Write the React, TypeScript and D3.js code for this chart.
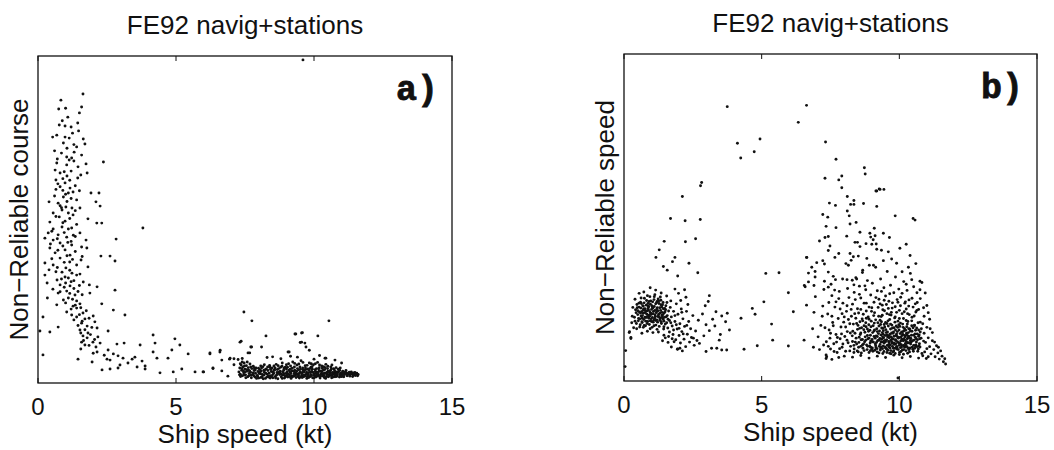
import React from "react";
import * as d3 from "d3";

// speed (kt) vs. non-reliability index (0-100, no tick labels on the original)
const speedTicks = [0, 5, 10, 15];

// ---- panel a : Non-Reliable course ----
const courseStation = [
  [1.63,88.4],[0.83,86.5],[1.58,84.4],[0.75,83.8],[1.5,82.6],[1.08,81.3],[0.77,78.9],[1.44,79.5],[0.98,78.6],[1.2,78.3],
  [1.47,77.1],[0.53,75.2],[0.68,75.8],[0.98,75.2],[1.13,74.9],[1.64,74.6],[1.7,73.1],[0.92,73.4],[1.4,72.2],[1.31,70.6],
  [1.58,69.7],[1.04,69.1],[1.13,68.2],[1.22,68.8],[0.68,67.3],[2.37,67.6],[1.74,67.0],[1.04,66.7],[0.62,65.1],[1.78,64.2],
  [0.8,64.2],[0.65,62.1],[1.44,62.7],[0.98,61.2],[0.8,60.0],[1.16,59.6],[1.27,58.4],[1.1,58.1],[1.92,58.1],[2.21,58.1],
  [0.92,56.9],[1.4,56.0],[0.4,55.4],[0.73,55.0],[2.1,55.4],[1.01,53.8],[1.23,53.5],[1.52,53.5],[2.25,54.1],[0.87,52.9],
  [0.55,52.0],[1.1,52.0],[1.27,51.4],[0.77,50.8],[1.81,50.2],[0.43,49.2],[0.98,49.5],[2.13,48.9],[2.31,48.9],[0.87,47.7],
  [0.55,47.1],[1.22,47.4],[3.8,47.4],[0.37,45.9],[0.73,45.3],[1.52,45.9],[1.04,44.6],[0.25,44.3],[0.55,43.7],[1.74,43.7],
  [2.83,44.0],[0.8,42.8],[1.22,42.2],[1.58,41.6],[0.43,41.3],[0.98,40.7],[1.77,41.3],[0.62,39.8],[1.16,39.1],[2.28,38.8],
  [2.61,38.8],[0.8,38.2],[1.56,37.6],[2.79,37.3],[0.25,36.7],[0.55,36.1],[1.4,36.1],[1.81,35.5],[1.01,35.2],[0.4,34.6],
  [0.87,33.9],[1.23,33.6],[1.52,33.3],[0.25,33.0],[0.98,32.4],[1.1,32.1],[0.69,31.5],[1.64,30.9],[0.33,30.6],[0.8,30.0],
  [1.16,29.7],[1.86,30.0],[2.14,29.4],[0.54,28.7],[1.04,28.1],[2.79,28.4],[0.73,27.5],[1.34,26.9],[1.88,27.5],[0.34,26.0],
  [1.1,26.0],[0.92,25.4],[2.31,24.2],[1.52,24.2],[0.68,23.9],[1.27,23.5],[1.4,22.9],[2.73,22.3],[1.04,21.7],[1.63,21.4],
  [1.22,20.8],[3.15,20.8],[2.0,20.5],[1.4,20.2],[1.7,19.6],[0.18,20.2],[2.06,18.7],[1.58,18.3],[1.78,17.4],[0.73,17.1],
  [1.52,16.2],[0.07,15.9],[2.14,16.8],[2.54,15.9],[0.43,15.6],[1.81,15.3],[1.63,14.4],[2.17,14.1],[1.78,13.8],[1.58,12.5],
  [1.99,12.5],[4.17,14.7],[4.96,13.5],[1.7,11.6],[2.1,11.0],[2.86,11.9],[3.12,12.2],[3.7,11.6],[4.24,12.2],[5.14,11.6],
  [2.54,10.1],[2.14,9.5],[4.17,9.5],[4.85,10.1],[2.73,8.9],[2.9,8.3],[5.44,8.9],[0.18,8.6],[3.08,7.6],[3.41,7.3],
  [3.51,7.9],[3.77,6.7],[2.61,7.0],[2.5,7.3],[1.45,7.3],[1.96,6.4],[4.31,7.6],[4.71,7.6],[2.97,5.5],[3.26,6.1],
  [3.59,4.9],[3.88,5.2],[2.32,4.0],[2.61,4.3],[2.9,4.6],[3.88,4.3],[4.42,3.1],[4.9,3.4],[5.21,4.3],[5.69,3.4],
  [5.98,3.4],[6.34,4.6],[0.9,62.5],[1.2,64.8],[1.0,57.7],[1.35,44.8],[1.15,37.0],[0.7,35.3],[1.3,31.3],[0.95,29.3],
  [1.45,28.0],[1.25,25.6],[1.5,20.9],[1.35,23.8],[1.1,47.1],[0.85,53.6],[1.05,63.3],[1.3,72.9],[0.65,59.2],[1.2,43.3],
];

const courseStationCore = [
  [0.88,80.2],[1.25,76.4],[1.05,71.8],[0.85,70.3],[1.45,66.1],[0.95,64.6],[1.15,62.0],[0.72,60.9],[1.35,60.3],[0.9,58.9],
  [1.2,56.4],[0.6,57.2],[1.5,58.8],[1.05,55.5],[0.8,54.2],[1.35,52.7],[0.65,50.9],[1.15,50.3],[0.9,49.0],[1.4,48.5],
  [0.5,46.4],[0.95,46.0],[1.28,45.2],[0.7,44.1],[1.08,43.0],[0.45,42.5],[0.9,41.9],[1.35,40.2],[0.72,40.6],[1.05,38.9],
  [0.5,38.0],[1.25,37.8],[0.95,36.9],[1.6,38.7],[0.65,34.0],[1.15,34.5],[1.4,33.0],[0.85,31.8],[1.2,31.0],[1.5,29.8],
  [1.0,30.6],[1.3,28.9],[0.8,27.9],[1.15,27.4],[1.6,27.0],[1.0,24.5],[1.4,25.1],[1.2,22.6],[1.55,23.0],[1.75,22.1],
  [1.3,19.3],[1.6,18.9],[1.85,19.8],[1.45,17.6],[1.7,16.3],[1.95,17.0],[1.55,15.3],[1.9,14.8],[1.65,13.0],[2.05,13.3],
  [1.85,11.5],[2.25,12.2],[1.55,10.4],[2.0,9.1],[2.4,8.5],[0.6,71.0],[1.0,84.0],[0.7,68.5],[1.3,67.9],[1.55,63.6],
];

const courseTransit = [
  [6.23,8.9],[6.59,9.5],[6.66,7.0],[6.88,2.1],[6.96,7.6],[7.32,12.5],[7.46,21.7],[7.75,19.0],[8.26,14.4],[9.31,15.0],
  [9.55,15.3],[9.55,12.5],[9.67,12.2],[9.71,11.0],[10.14,14.4],[10.54,19.0],[9.6,98.8],[7.71,11.0],[7.61,9.2],[9.06,9.5],
  [10.76,7.0],[10.4,7.6],[9.34,15.0],[9.58,15.4],[9.5,12.4],[7.36,12.8],[7.74,11.0],[8.1,11.0],[7.67,9.2],[6.23,9.2],
  [6.6,10.0],[9.1,9.5],[9.15,8.2],[9.83,10.0],[10.43,7.6],[6.94,7.3],[7.1,7.4],[7.25,7.2],[7.4,7.5],[6.0,3.4],
  [6.34,4.4],[6.66,3.7],[7.1,5.6],[8.5,8.0],[8.8,7.4],[9.4,7.9],[10.0,7.3],[10.2,8.4],[8.3,7.8],[11.0,6.1],
];

const courseBand = [
  [7.28,3.4],[7.31,4.6],[7.33,2.7],[7.36,5.5],[7.38,3.9],[7.4,2.2],[7.42,4.9],[7.45,3.1],[7.47,6.1],[7.5,4.2],
  [7.52,2.5],[7.55,5.3],[7.57,3.6],[7.6,1.9],[7.62,4.7],[7.65,2.9],[7.68,5.8],[7.7,3.3],[7.73,1.6],[7.75,4.4],
  [7.78,2.6],[7.8,5.1],[7.83,3.8],[7.86,1.8],[7.88,3.0],[7.9,4.6],[7.94,2.3],[7.97,3.5],[8.0,1.5],[8.03,4.1],
  [8.06,2.8],[8.09,3.7],[8.12,1.9],[8.15,5.0],[8.18,2.4],[8.2,3.3],[8.24,1.4],[8.27,4.3],[8.3,2.7],[8.33,3.8],
  [8.36,1.8],[8.39,5.4],[8.42,2.2],[8.45,3.5],[8.48,4.6],[8.51,1.6],[8.54,2.9],[8.57,4.0],[8.6,2.0],[8.63,5.7],
  [8.66,3.2],[8.69,1.3],[8.72,4.4],[8.75,2.6],[8.78,3.6],[8.81,1.9],[8.84,5.1],[8.87,2.4],[8.9,3.9],[8.93,1.5],
  [8.96,4.8],[8.99,2.9],[9.02,3.4],[9.05,1.8],[9.08,5.9],[9.11,2.5],[9.14,4.2],[9.17,1.4],[9.2,3.7],[9.23,6.4],
  [9.26,2.1],[9.29,4.9],[9.32,3.0],[9.35,1.7],[9.38,5.5],[9.41,2.7],[9.44,4.0],[9.47,1.5],[9.5,3.4],[9.53,6.8],
  [9.56,2.3],[9.59,4.6],[9.62,1.9],[9.65,3.8],[9.68,5.3],[9.71,2.6],[9.74,1.4],[9.77,4.3],[9.8,3.1],[9.83,6.1],
  [9.86,2.0],[9.89,4.8],[9.92,3.5],[9.95,1.6],[9.98,5.6],[10.01,2.8],[10.04,4.1],[10.07,1.8],[10.1,3.3],[10.13,6.3],
  [10.16,2.4],[10.19,4.7],[10.22,1.5],[10.25,3.7],[10.28,5.2],[10.31,2.2],[10.34,4.0],[10.37,1.7],[10.4,3.1],[10.43,5.7],
  [10.46,2.6],[10.49,4.4],[10.52,1.9],[10.55,3.5],[10.58,2.3],[10.61,4.9],[10.64,1.6],[10.67,3.2],[10.7,2.7],[10.73,4.1],
  [10.76,1.9],[10.8,3.4],[10.84,2.4],[10.88,4.2],[10.92,1.8],[10.96,3.0],[11.0,2.4],[11.04,3.6],[11.08,1.9],[11.12,2.9],
  [11.16,3.8],[11.2,2.2],[11.25,3.1],[11.3,2.5],[11.35,3.4],[11.4,2.0],[11.45,2.8],[11.5,2.3],[11.55,3.0],[11.6,2.6],
  [7.34,2.0],[7.44,3.7],[7.53,1.6],[7.63,3.9],[7.72,2.4],[7.84,4.6],[7.92,1.4],[8.01,2.9],[8.1,4.6],[8.16,1.3],
  [8.25,3.0],[8.34,2.1],[8.43,4.2],[8.52,3.3],[8.61,1.5],[8.67,4.1],[8.76,3.1],[8.85,1.4],[8.91,2.8],[9.0,4.3],
  [9.06,2.7],[9.12,3.4],[9.19,2.2],[9.27,3.5],[9.33,2.4],[9.4,4.4],[9.46,2.9],[9.52,1.9],[9.58,3.2],[9.64,2.5],
  [9.7,4.1],[9.76,1.9],[9.82,3.8],[9.88,2.6],[9.94,4.2],[10.0,1.6],[10.06,3.0],[10.12,2.1],[10.18,3.6],[10.24,2.6],
  [10.3,4.5],[10.36,2.9],[10.42,1.4],[10.48,3.3],[10.54,2.5],[10.6,3.9],[10.66,2.2],[10.72,3.0],[10.78,2.8],[10.86,3.3],
  [10.94,2.5],[11.02,3.1],[11.1,2.6],[11.18,3.0],[11.28,3.3],[11.38,2.7],[11.48,3.2],[11.58,2.2],[9.15,5.2],[9.45,5.8],
  [9.75,5.4],[10.05,5.9],[10.35,5.0],[10.65,5.5],[8.85,6.1],[8.55,5.2],[8.2,5.6],[7.48,5.2],[7.4,6.4],[10.95,4.6],
];

const courseBandCore = [
  [7.3,2.5],[7.39,4.4],[7.46,2.4],[7.56,4.1],[7.64,2.2],[7.71,4.9],[7.79,3.1],[7.87,4.0],[7.96,2.0],[8.04,3.3],
  [8.13,2.6],[8.21,4.0],[8.29,1.8],[8.37,3.0],[8.46,1.9],[8.55,3.9],[8.64,2.4],[8.73,3.4],[8.82,2.7],[8.92,4.5],
  [8.97,1.9],[9.03,2.3],[9.09,3.9],[9.16,3.0],[9.22,1.9],[9.3,3.9],[9.36,2.9],[9.43,1.9],[9.49,4.9],[9.55,2.8],
  [9.61,4.0],[9.67,2.1],[9.73,3.3],[9.79,2.4],[9.85,4.4],[9.91,2.3],[9.97,3.2],[10.03,2.2],[10.09,4.4],[10.15,3.1],
  [10.21,1.9],[10.27,3.0],[10.33,2.6],[10.39,4.1],[10.45,2.0],[10.51,3.6],[10.57,2.9],[10.63,4.3],[10.69,1.8],[10.75,3.6],
  [10.82,2.0],[10.9,3.6],[10.98,2.0],[11.06,2.6],[11.14,3.3],[11.22,2.6],[11.33,2.9],[11.43,2.4],[11.53,2.7],[8.07,5.2],
  [8.4,4.8],[8.7,5.3],[9.0,5.6],[9.3,6.0],[9.6,6.3],[9.9,5.9],[10.2,5.5],[10.5,5.1],[10.8,4.7],[7.58,6.4],
  [7.33,5.9],[7.49,3.3],[7.67,3.7],[7.82,2.2],[7.99,4.5],[8.08,1.7],[8.19,3.9],[8.32,4.9],[8.41,1.5],[8.5,2.5],
  [8.59,4.6],[8.68,2.9],[8.79,4.8],[8.88,3.3],[8.95,2.2],[9.04,4.8],[9.13,1.9],[9.21,4.5],[9.28,2.8],[9.37,3.6],
  [9.44,2.3],[9.51,4.2],[9.57,1.7],[9.63,3.4],[9.69,4.6],[9.75,2.9],[9.81,1.7],[9.87,3.3],[9.93,5.0],[9.99,2.5],
  [10.05,3.6],[10.11,2.6],[10.17,4.3],[10.23,2.1],[10.29,3.5],[10.35,2.3],[10.41,4.7],[10.47,3.0],[10.53,2.1],[10.59,3.2],
  [10.65,2.6],[10.71,4.4],[10.77,2.4],[10.85,2.8],[10.93,3.9],[11.01,2.0],[11.09,3.3],[11.19,2.5],[11.3,2.1],[11.42,3.1],
];

// ---- panel b : Non-Reliable speed ----
const speedStation = [
  [0.38,19.5],[0.42,21.8],[0.45,17.6],[0.47,23.4],[0.5,20.3],[0.52,18.4],[0.55,22.6],[0.57,16.5],[0.6,24.1],[0.62,19.9],
  [0.64,21.2],[0.66,17.9],[0.68,23.0],[0.7,20.7],[0.72,18.8],[0.74,25.3],[0.76,22.1],[0.78,16.9],[0.8,19.4],[0.82,24.6],
  [0.84,21.5],[0.86,18.2],[0.88,22.9],[0.9,20.1],[0.92,17.3],[0.94,25.8],[0.96,23.5],[0.98,19.0],[1.0,21.9],[1.02,16.4],
  [1.04,24.2],[1.06,20.6],[1.08,18.6],[1.1,22.8],[1.12,26.4],[1.14,19.7],[1.16,17.1],[1.18,23.9],[1.2,21.3],[1.22,18.0],
  [1.24,25.1],[1.26,20.4],[1.28,16.7],[1.3,22.4],[1.32,19.2],[1.34,24.7],[1.36,17.6],[1.38,21.0],[1.4,23.3],[1.42,18.9],
  [1.44,15.9],[1.46,20.8],[1.48,22.2],[1.5,17.4],[1.53,19.6],[1.56,24.0],[1.59,16.2],[1.62,21.4],[1.65,18.5],[0.4,18.3],
  [0.44,20.9],[0.48,22.4],[0.53,19.1],[0.56,21.1],[0.59,17.2],[0.63,23.7],[0.67,20.0],[0.71,22.0],[0.73,17.0],[0.77,20.9],
  [0.81,23.2],[0.85,19.7],[0.89,21.7],[0.91,24.3],[0.95,18.4],[0.97,20.7],[1.01,23.0],[1.03,19.4],[1.07,21.3],[1.09,16.9],
  [1.13,20.2],[1.15,23.6],[1.19,18.7],[1.21,22.4],[1.25,19.9],[1.27,23.7],[1.31,20.8],[1.35,18.1],[1.37,22.6],[1.41,20.3],
  [1.45,18.3],[1.49,21.2],[1.52,23.0],[1.57,20.0],[1.6,18.9],[0.6,20.8],[0.66,19.2],[0.75,21.7],[0.79,18.3],[0.83,20.4],
  [0.87,22.2],[0.93,19.8],[0.99,20.5],[1.05,22.3],[1.11,19.2],[1.17,20.9],[1.23,21.5],[1.29,19.4],[1.33,21.6],[1.39,19.5],
  [1.43,22.1],[0.7,22.9],[0.9,22.7],[1.0,18.2],[1.2,24.3],[0.2,15.1],[0.25,13.3],[0.28,17.8],[0.32,22.5],[0.3,19.8],
  [0.35,16.3],[0.4,25.0],[0.55,26.8],[0.65,14.6],[0.72,27.2],[0.85,15.2],[0.95,28.5],[1.05,14.8],[1.15,27.8],[1.25,15.0],
  [1.35,26.9],[1.45,14.0],[1.55,26.0],[1.62,13.6],[1.7,24.5],[1.68,22.5],[1.72,19.6],[1.75,16.8],[1.78,14.2],[1.8,21.3],
  [1.85,18.2],[1.88,12.6],[1.9,23.6],[1.93,15.9],[1.96,20.4],[2.0,13.9],[2.03,17.5],[2.05,11.6],[2.08,22.0],[2.1,15.1],
  [2.14,19.0],[2.18,12.8],[2.2,16.7],[2.24,10.5],[2.27,21.3],[2.3,14.3],[2.35,18.2],[2.38,11.9],[2.42,16.0],[2.45,13.3],
  [2.5,20.0],[2.55,10.9],[2.6,15.3],[2.65,12.4],[2.7,18.6],[1.6,11.8],[1.72,10.4],[1.82,12.0],[1.5,13.2],[1.4,12.3],
  [1.95,9.8],[2.12,9.2],[2.25,25.6],[1.98,26.8],[1.85,28.1],[2.06,24.6],[2.2,27.9],[2.32,23.4],[0.06,9.3],[0.04,4.4],
  [0.19,14.8],[0.25,13.0],[1.94,9.7],[2.03,10.0],[2.52,13.1],[2.74,11.5],
];

const speedStationCore = [
  [0.5,21.5],[0.54,23.8],[0.58,19.0],[0.61,22.3],[0.65,18.1],[0.69,21.6],[0.73,23.9],[0.76,19.5],[0.8,21.3],[0.84,17.6],
  [0.87,23.7],[0.9,19.2],[0.94,21.2],[0.97,24.5],[1.0,20.4],[1.03,22.6],[1.06,18.0],[1.09,24.9],[1.12,21.6],[1.16,18.5],
  [1.19,22.0],[1.23,19.7],[1.26,24.5],[1.3,18.6],[1.34,23.3],[1.38,20.1],[1.42,24.0],[1.47,19.5],[1.51,21.8],[1.55,17.8],
  [0.62,25.4],[0.85,26.1],[1.1,25.8],[1.32,25.7],[0.46,16.0],[0.7,16.4],[0.95,16.0],[1.2,15.8],[1.45,16.6],[1.7,17.8],
  [1.65,15.0],[1.8,15.6],[1.9,17.2],[1.75,12.9],[2.0,16.1],[2.15,14.4],[2.28,17.0],[1.85,20.0],[2.1,21.0],
];

const speedMid = [
  [3.75,83.9],[6.63,84.3],[6.33,79.1],[4.12,72.7],[4.94,74.0],[4.73,70.1],[4.24,68.2],[2.82,60.7],[2.78,59.7],[2.12,56.4],
  [1.69,49.7],[2.22,49.0],[2.77,49.4],[2.6,43.5],[2.23,42.6],[1.46,42.7],[1.28,40.1],[2.36,36.0],[2.68,33.1],[1.16,37.8],
  [1.85,37.8],[1.76,36.5],[1.43,35.0],[1.57,33.9],[1.95,32.1],[5.15,32.9],[5.63,33.1],[5.97,27.0],[5.08,24.2],[4.66,22.2],
  [4.76,20.4],[4.25,19.2],[6.15,21.2],[5.36,17.4],[5.4,12.5],[4.84,10.8],[4.36,9.7],[5.97,10.7],[6.63,37.8],[6.58,28.8],
  [6.63,23.2],[6.54,12.5],[6.88,10.3],[7.34,6.9],[7.34,7.95],[3.1,26.1],[3.06,24.3],[3.34,21.2],[3.55,19.9],[3.75,20.7],
  [3.69,18.1],[3.83,15.6],[3.22,18.9],[2.98,17.2],[3.1,15.4],[2.9,13.8],[3.18,10.0],[3.37,10.0],[3.55,9.5],[3.73,9.5],
  [2.98,9.0],[3.46,12.5],[2.85,20.5],[2.95,23.0],[3.5,14.2],[3.3,16.8],
];

const speedTransit = [
  // sparse top of the transit cloud
  [7.32,73.1],[7.7,67.8],[7.3,62.0],[7.8,61.5],[7.91,62.7],[7.91,59.1],[8.73,65.2],[8.76,63.3],[9.18,58.1],[9.27,58.7],
  [9.15,58.1],[9.3,58.6],[9.44,58.6],[9.18,53.4],[9.85,50.5],[10.5,49.7],[10.57,49.2],[9.09,46.7],[8.93,45.2],[9.42,45.2],
  [9.64,43.9],[10.02,40.6],[10.39,38.4],[9.72,37.3],[9.42,36.8],[10.33,34.8],[8.11,56.4],[8.35,55.2],[8.35,54.0],[8.23,54.0],
  [8.7,54.3],[7.46,54.4],[7.68,53.7],[8.11,52.0],[8.18,50.5],[7.22,50.9],[7.4,50.1],[8.21,48.0],[8.43,48.5],[7.34,47.3],
  [7.7,46.9],[8.09,44.3],[8.57,45.5],[7.3,43.9],[7.42,44.2],[7.1,42.8],[8.39,42.4],[8.48,42.4],[8.57,41.1],[8.79,42.0],
  [8.96,44.0],[9.05,43.2],[9.12,44.4],[9.0,41.8],[9.16,41.9],[9.18,40.3],[7.48,41.3],[7.42,39.9],[7.8,39.0],[7.66,37.8],
  [8.21,39.0],[8.33,38.0],[8.51,38.2],[8.06,35.9],[8.15,35.4],[8.25,36.9],[6.64,37.8],[7.22,36.8],[7.0,36.2],[7.28,35.8],
  [8.82,37.5],[8.91,35.4],[9.06,35.4],[8.67,33.9],[6.82,34.8],[6.94,33.5],[6.94,31.8],[6.7,33.0],[7.42,33.3],[7.6,32.0],
  [7.28,30.5],[7.94,31.2],[8.1,31.0],[8.29,30.8],[8.45,31.2],[6.55,29.2],[6.9,29.2],[7.42,28.7],[9.6,39.5],[9.9,36.0],
  [10.1,33.4],[10.6,35.9],[10.25,41.8],[9.35,40.0],[10.75,30.5],[10.45,31.0],
  // left flank of the cloud
  [7.35,12.0],[7.4,20.5],[7.45,15.6],[7.5,9.8],[7.55,26.1],[7.58,17.9],[7.62,11.4],[7.66,22.6],[7.7,14.2],[7.74,8.7],
  [7.78,19.1],[7.82,27.4],[7.85,12.9],[7.88,16.5],[7.92,10.3],[7.95,23.8],[7.98,18.0],[8.02,13.6],[8.05,9.1],[8.08,21.3],
  [8.11,15.1],[8.14,11.7],[8.17,25.5],[8.2,17.5],[8.23,10.6],[8.26,19.8],[8.29,13.8],[7.6,16.9],[7.72,11.9],[7.9,14.4],
  [8.0,19.6],[8.1,12.5],[8.22,14.7],[7.44,24.0],[7.52,29.6],[7.68,31.0],[7.8,25.2],[8.12,28.3],[7.36,7.4],[7.42,10.6],
  [7.48,13.1],[7.63,9.0],[7.83,9.9],[7.15,17.0],[7.22,22.9],[7.05,13.5],[6.95,25.8],[7.1,9.6],[6.9,21.0],[6.85,16.0],
  [7.26,28.0],[6.7,30.3],
  // upper part of the cloud
  [8.3,23.5],[8.36,27.1],[8.42,31.6],[8.48,22.1],[8.55,29.0],[8.6,25.4],[8.66,33.2],[8.72,23.8],[8.78,27.9],[8.84,30.7],
  [8.9,22.6],[8.96,26.3],[9.02,29.9],[9.08,24.1],[9.14,34.8],[9.2,27.6],[9.26,25.0],[9.32,31.2],[9.38,23.2],[9.44,28.5],
  [9.5,26.0],[9.56,33.5],[9.62,24.4],[9.68,29.3],[9.74,22.3],[9.8,27.0],[9.86,31.8],[9.92,24.9],[9.98,28.1],[10.04,23.0],
  [10.1,26.8],[10.16,30.4],[10.22,24.2],[10.28,27.7],[10.34,22.9],[10.4,32.9],[10.46,25.3],[10.52,28.8],[10.58,23.6],[10.64,27.0],
  [10.7,21.9],[10.76,25.2],[10.82,30.1],[10.88,22.4],[10.94,26.9],[11.0,23.1],[8.52,20.8],[8.8,21.4],[9.1,20.9],[9.4,21.8],
  [9.7,20.2],[10.0,21.6],[10.3,20.6],[10.6,21.1],[10.9,19.8],[10.85,17.5],[10.9,14.6],[10.95,11.8],[11.0,16.4],[11.05,13.2],
  [11.1,18.9],[11.0,9.9],[10.88,12.2],[10.92,8.9],
  // dense core
  [8.3,12.1],[8.33,17.4],[8.36,9.8],[8.39,14.6],[8.42,19.2],[8.45,11.3],[8.48,15.8],[8.51,8.9],[8.54,13.4],[8.57,18.1],
  [8.6,10.6],[8.63,16.3],[8.66,12.7],[8.69,20.4],[8.72,9.3],[8.75,14.9],[8.78,17.8],[8.81,11.0],[8.84,13.9],[8.87,19.6],
  [8.9,8.7],[8.93,15.5],[8.96,12.2],[8.99,21.3],[9.02,10.1],[9.05,16.9],[9.08,13.6],[9.11,9.4],[9.14,18.7],[9.17,11.8],
  [9.2,15.1],[9.23,22.5],[9.26,8.6],[9.29,13.0],[9.32,17.3],[9.35,10.4],[9.38,20.1],[9.41,14.3],[9.44,9.0],[9.47,16.5],
  [9.5,12.0],[9.53,23.4],[9.56,10.9],[9.59,18.4],[9.62,13.8],[9.65,8.5],[9.68,15.9],[9.71,21.0],[9.74,11.5],[9.77,14.6],
  [9.8,9.2],[9.83,19.3],[9.86,12.6],[9.89,16.8],[9.92,10.2],[9.95,24.1],[9.98,13.3],[10.01,8.8],[10.04,17.7],[10.07,11.1],
  [10.1,20.6],[10.13,14.2],[10.16,9.6],[10.19,16.0],[10.22,12.4],[10.25,22.0],[10.28,10.5],[10.31,18.2],[10.34,13.7],[10.37,8.9],
  [10.4,15.3],[10.43,11.9],[10.46,19.5],[10.49,9.7],[10.52,14.0],[10.55,17.1],[10.58,10.8],[10.61,12.9],[10.64,21.6],[10.67,9.1],
  [10.7,15.6],[10.73,11.4],[10.76,18.0],[10.79,13.1],[10.82,8.4],[8.31,15.2],[8.35,10.9],[8.38,20.6],[8.43,13.1],[8.47,9.2],
  [8.5,17.0],[8.53,11.8],[8.58,14.2],[8.62,8.6],[8.65,19.0],[8.68,10.0],[8.71,15.7],[8.74,12.0],[8.79,16.6],[8.83,9.6],
  [8.86,12.9],[8.89,17.2],[8.92,10.7],[8.95,14.0],[8.98,18.3],[9.01,12.7],[9.04,9.1],[9.07,20.0],[9.1,15.6],[9.13,11.3],
  [9.16,13.8],[9.19,9.9],[9.22,17.8],[9.25,12.5],[9.28,15.3],[9.31,9.5],[9.34,19.7],[9.37,11.9],[9.4,16.1],[9.43,13.2],
  [9.46,21.5],[9.49,10.3],[9.52,14.8],[9.55,17.6],[9.58,9.4],[9.61,12.1],[9.64,20.3],[9.67,11.0],[9.7,13.5],[9.73,17.1],
  [9.76,8.9],[9.79,15.0],[9.82,11.2],[9.85,22.7],[9.88,13.9],[9.91,9.8],[9.94,16.4],[9.97,11.7],[10.0,19.1],[10.03,14.5],
  [10.06,9.0],[10.09,12.8],[10.12,17.4],[10.15,10.9],[10.18,21.2],[10.21,13.5],[10.24,9.3],[10.27,16.6],[10.3,11.6],[10.33,14.8],
  [10.36,20.3],[10.39,10.1],[10.42,13.0],[10.45,16.9],[10.48,12.3],[10.51,9.1],[10.54,19.9],[10.57,14.4],[10.6,11.0],[10.63,16.2],
  [10.66,12.6],[10.69,9.8],[10.72,14.1],[10.75,10.4],[10.8,16.0],[9.3,11.2],[9.33,14.1],[9.36,12.8],[9.39,9.9],[9.42,15.4],
  [9.45,11.6],[9.48,13.9],[9.51,10.0],[9.54,12.6],[9.57,15.0],[9.6,11.0],[9.63,13.2],[9.66,10.1],[9.69,12.5],[9.72,14.7],
  [9.75,10.6],[9.78,12.8],[9.81,16.3],[9.84,10.0],[9.87,11.4],[9.9,14.4],[9.93,12.0],[9.96,9.6],[9.99,15.6],[10.02,11.5],
  [10.05,13.4],[10.08,10.4],[10.11,15.0],[10.14,12.3],[10.17,10.7],[10.2,13.9],[10.23,11.0],[10.26,14.6],[10.29,12.9],[10.32,10.0],
  [10.35,11.7],[10.38,13.2],[9.4,8.4],[9.7,8.3],[10.0,8.1],[10.3,8.5],[9.55,8.7],[9.85,8.4],[10.15,8.2],[9.2,8.9],
  [8.95,9.3],
  // bottom edge and right tail
  [11.1,10.5],[11.15,8.3],[11.2,12.3],[11.25,9.6],[11.3,7.4],[11.35,10.8],[11.4,8.6],[11.45,6.7],[11.5,9.2],[11.55,7.6],
  [11.6,5.9],[11.65,6.8],[11.68,5.2],[11.2,14.8],[11.12,16.0],[11.28,11.9],[11.42,10.3],[11.05,7.4],[10.98,6.9],[10.85,7.7],
  [8.0,7.6],[8.3,7.3],[8.6,7.8],[8.9,7.0],[9.2,7.6],[9.5,7.2],[9.8,7.9],[10.1,7.1],[10.4,7.5],[10.7,7.0],
  [7.55,6.6],[7.8,7.2],[9.95,0.9],
];

const speedTransitCore = [
  [8.52,10.3],[8.56,16.1],[8.61,12.6],[8.67,18.4],[8.7,11.3],[8.76,13.5],[8.8,19.2],[8.85,10.6],[8.88,15.2],[8.94,11.6],
  [8.97,16.6],[9.0,9.7],[9.03,14.8],[9.06,11.9],[9.09,17.7],[9.12,13.1],[9.15,10.2],[9.18,16.0],[9.21,12.3],[9.24,14.5],
  [9.27,10.6],[9.3,18.6],[9.33,12.0],[9.36,16.2],[9.39,13.5],[9.42,10.7],[9.45,17.3],[9.48,12.4],[9.51,15.7],[9.54,9.8],
  [9.57,13.5],[9.6,16.8],[9.63,11.7],[9.66,14.3],[9.69,9.3],[9.72,12.0],[9.75,16.2],[9.78,10.0],[9.81,13.7],[9.84,18.0],
  [9.87,12.4],[9.9,10.6],[9.93,15.1],[9.96,13.1],[9.99,10.9],[10.02,16.7],[10.05,12.2],[10.08,14.9],[10.11,9.5],[10.14,16.4],
  [10.17,12.9],[10.2,10.3],[10.23,15.5],[10.26,12.0],[10.29,17.4],[10.32,13.2],[10.35,9.6],[10.38,15.9],[10.41,11.3],[10.44,14.0],
  [10.47,10.3],[10.5,16.3],[10.53,12.5],[10.56,10.0],[10.59,15.5],[10.62,11.9],[10.65,14.4],[10.68,17.8],[10.71,10.7],[10.74,12.9],
  [9.25,19.8],[9.55,20.6],[9.85,19.6],[10.15,19.1],[10.45,18.4],[8.9,18.9],[9.0,22.4],[9.3,23.6],[9.6,22.2],[9.9,21.0],
  [10.2,23.8],[10.5,22.6],[8.6,21.9],[8.4,24.9],[8.25,21.9],[8.45,17.6],[8.4,11.9],[8.35,8.7],[8.2,9.2],[8.15,18.8],
  [8.05,16.5],[7.95,11.3],[7.92,20.6],[7.75,13.3],[7.7,24.2],[7.55,19.8],[7.5,14.6],[7.3,16.3],[7.25,11.0],[7.2,19.8],
  [9.02,12.0],[9.08,15.3],[9.14,10.8],[9.2,13.6],[9.26,16.8],[9.32,10.1],[9.38,14.8],[9.44,12.2],[9.5,17.9],[9.56,14.1],
  [9.62,10.4],[9.68,17.4],[9.74,13.0],[9.8,11.6],[9.86,15.6],[9.92,13.6],[9.98,17.2],[10.04,10.2],[10.1,13.9],[10.16,15.3],
  [10.22,11.5],[10.28,14.0],[10.34,16.0],[10.4,12.4],[10.46,15.2],[10.52,10.9],[10.58,13.4],[10.64,10.5],[10.7,13.7],[10.76,15.0],
  [8.6,14.7],[8.66,11.0],[8.72,16.9],[8.78,12.5],[8.84,15.9],[8.9,13.1],[8.96,10.3],[9.35,18.1],[9.65,18.8],[9.95,18.3],
  [10.25,18.5],[10.55,16.9],[8.8,23.8],[9.15,25.5],[9.45,24.7],[9.75,23.9],[10.05,25.6],[10.35,24.8],[10.65,24.0],[8.55,26.5],
  [8.1,23.0],[7.85,22.0],[7.65,27.8],[8.35,29.4],[8.75,29.1],[9.35,27.4],[9.65,26.7],[10.25,29.6],[10.75,27.9],[11.05,20.9],
];

const ink = "#111";
const sans = "'Liberation Sans', Arial, Helvetica, sans-serif";

type Pt = number[];

const Panel = ({ box, title, yLabel, tag, groups }: {
  box: { left: number; top: number; right: number; bottom: number };
  title: string;
  yLabel: string;
  tag: string;
  groups: Pt[][];
}) => {
  const x = d3.scaleLinear().domain([0, 15]).range([box.left, box.right]);
  const y = d3.scaleLinear().domain([0, 100]).range([box.bottom, box.top]);
  const cx = (box.left + box.right) / 2;
  const cy = (box.top + box.bottom) / 2;
  const tickLen = 5;

  return (
    <g>
      <text x={cx} y={box.top - 22} textAnchor="middle" fontFamily={sans} fontSize={26} fill={ink}>
        {title}
      </text>
      {groups.map((pts, gi) => (
        <g key={gi} fill={ink}>
          {pts.map((d, i) => (
            <circle key={i} cx={x(d[0])} cy={y(d[1])} r={1.45} />
          ))}
        </g>
      ))}
      <rect x={box.left} y={box.top} width={box.right - box.left} height={box.bottom - box.top}
        fill="none" stroke={ink} strokeWidth={1.3} />
      {speedTicks.map((t) => (
        <g key={t}>
          <line x1={x(t)} x2={x(t)} y1={box.bottom} y2={box.bottom - tickLen} stroke={ink} strokeWidth={1} />
          <line x1={x(t)} x2={x(t)} y1={box.top} y2={box.top + tickLen} stroke={ink} strokeWidth={1} />
          <text x={x(t)} y={box.bottom + 32} textAnchor="middle" fontFamily={sans} fontSize={24} fill={ink}>
            {t}
          </text>
        </g>
      ))}
      <text x={cx} y={box.bottom + 60} textAnchor="middle" fontFamily={sans} fontSize={26} fill={ink}>
        Ship speed (kt)
      </text>
      <text transform={`translate(${box.left - 10},${cy}) rotate(-90)`} textAnchor="middle"
        fontFamily={sans} fontSize={26} fill={ink}>
        {yLabel}
      </text>
      <text x={box.right - 14} y={box.top + 44} textAnchor="end" fontFamily="'Liberation Mono', 'Courier New', monospace"
        fontWeight="bold" fontSize={35} fill={ink} stroke={ink} strokeWidth={0.8}>
        {tag}
      </text>
    </g>
  );
};

export default function App() {
  return (
    <svg width={1054} height={450} style={{ position: "absolute", left: 0, top: 0, background: "#fff" }}>
      <rect width={1054} height={450} fill="#fff" />
      <Panel box={{ left: 38, top: 56, right: 452, bottom: 383 }} title="FE92 navig+stations"
        yLabel="Non−Reliable course" tag="a)"
        groups={[courseStation, courseStationCore, courseTransit, courseBand, courseBandCore]} />
      <Panel box={{ left: 624, top: 54, right: 1037, bottom: 381 }} title="FE92 navig+stations"
        yLabel="Non−Reliable speed" tag="b)"
        groups={[speedStation, speedStationCore, speedMid, speedTransit, speedTransitCore]} />
    </svg>
  );
}
